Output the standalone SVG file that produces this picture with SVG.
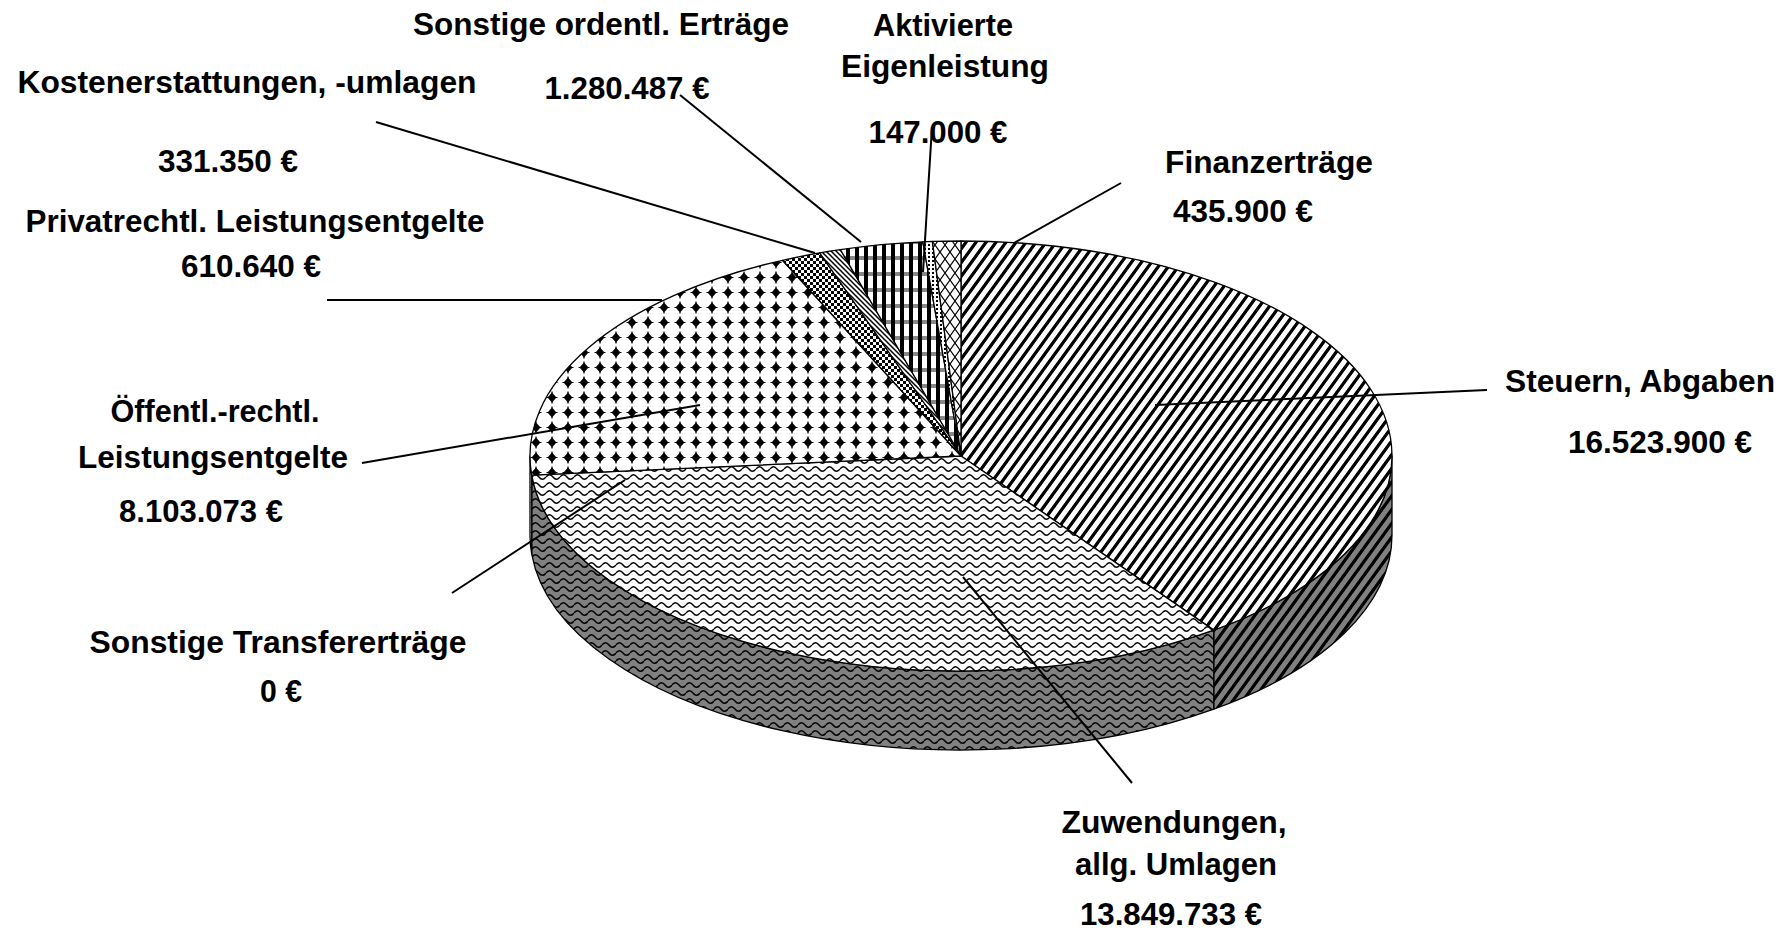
<svg xmlns="http://www.w3.org/2000/svg" width="1787" height="931" viewBox="0 0 1787 931">
<defs>
<pattern id="pSt" patternUnits="userSpaceOnUse" width="10" height="10" patternTransform="skewX(-36)">
<rect width="10" height="10" fill="#fff"/><rect width="4" height="10" fill="#000"/>
</pattern>
<pattern id="pStS" patternUnits="userSpaceOnUse" width="10" height="10" patternTransform="skewX(-36)">
<rect width="10" height="10" fill="#808080"/><rect width="4" height="10" fill="#000"/>
</pattern>
<pattern id="pZu" patternUnits="userSpaceOnUse" width="14" height="8">
<rect width="14" height="8" fill="#fff"/><path d="M0,5 Q3.5,0.5 7,5 T14,5" fill="none" stroke="#000" stroke-width="1.4"/>
</pattern>
<pattern id="pZuS" patternUnits="userSpaceOnUse" width="14" height="8">
<rect width="14" height="8" fill="#808080"/><path d="M0,5 Q3.5,0.5 7,5 T14,5" fill="none" stroke="#000" stroke-width="1.5"/>
</pattern>
<pattern id="pOe" patternUnits="userSpaceOnUse" width="16" height="15">
<rect width="16" height="15" fill="#fff"/><polygon points="8,2.5 12.5,7.5 8,12.5 3.5,7.5" fill="#000"/><path d="M8,1.5 V13.5 M2.5,7.5 H13.5" stroke="#000" stroke-width="1.2"/>
</pattern>
<pattern id="pPr" patternUnits="userSpaceOnUse" width="6" height="6">
<rect width="6" height="6" fill="#fff"/><rect width="3" height="3" fill="#000"/><rect x="3" y="3" width="3" height="3" fill="#000"/>
</pattern>
<pattern id="pKo" patternUnits="userSpaceOnUse" width="5" height="5">
<rect width="5" height="5" fill="#fff"/><path d="M0,0 L5,5 M-1,4 L1,6 M4,-1 L6,1" stroke="#000" stroke-width="1.5"/>
</pattern>
<pattern id="pSo" patternUnits="userSpaceOnUse" width="9" height="16">
<rect width="9" height="16" fill="#fff"/><rect y="0" width="9" height="4" fill="#888"/><rect width="4" height="16" fill="#000"/>
</pattern>
<pattern id="pAk" patternUnits="userSpaceOnUse" width="4" height="4">
<rect width="4" height="4" fill="#fff"/><rect width="2" height="2" fill="#000"/>
</pattern>
<pattern id="pFi" patternUnits="userSpaceOnUse" width="10" height="14">
<rect width="10" height="14" fill="#fff"/><path d="M0,0 L10,14 M10,0 L0,14" stroke="#000" stroke-width="1.2"/>
</pattern>
</defs>
<style>
.lbl{font-family:"Liberation Sans",Arial,sans-serif;font-weight:bold;font-size:31px;fill:#000;text-anchor:middle}
.ld{fill:none;stroke:#000;stroke-width:2}
.edge{stroke:#000;stroke-width:1.3;stroke-linejoin:round}
</style>
<rect width="1787" height="931" fill="#fff"/>

<g id="steuern">
<path class="edge" fill="url(#pStS)" d="M1392,456 A431,215 0 0 1 1213.75,630.15 L1213.75,709.15 A431,215 0 0 0 1392,535 Z"/>
<path class="edge" fill="url(#pSt)" d="M961,456 L961,241 A431,215 0 0 1 1213.75,630.15 Z"/>
<text class="lbl" x="1640" y="392" textLength="270" lengthAdjust="spacingAndGlyphs">Steuern, Abgaben</text>
<text class="lbl" x="1660" y="453" textLength="184" lengthAdjust="spacingAndGlyphs">16.523.900 €</text>
</g>

<g id="zuwendungen">
<path class="edge" fill="url(#pZuS)" d="M1213.75,630.15 A431,215 0 0 1 531.72,475.21 L531.72,554.21 A431,215 0 0 0 1213.75,709.15 Z"/>
<path class="edge" fill="url(#pZu)" d="M961,456 L1213.75,630.15 A431,215 0 0 1 531.72,475.21 Z"/>
<text class="lbl" x="1174" y="833" textLength="225" lengthAdjust="spacingAndGlyphs">Zuwendungen,</text>
<text class="lbl" x="1176" y="875" textLength="202" lengthAdjust="spacingAndGlyphs">allg. Umlagen</text>
<text class="lbl" x="1171" y="925" textLength="182" lengthAdjust="spacingAndGlyphs">13.849.733 €</text>
</g>

<g id="transfer">
<text class="lbl" x="278" y="653" textLength="377" lengthAdjust="spacingAndGlyphs">Sonstige Transfererträge</text>
<text class="lbl" x="281" y="702" textLength="42" lengthAdjust="spacingAndGlyphs">0 €</text>
</g>

<g id="oeffentl">
<path class="edge" fill="url(#pOe)" d="M531.72,475.21 A431,215 0 0 1 530,456 L530,535 A431,215 0 0 0 531.72,554.21 Z"/>
<path class="edge" fill="url(#pOe)" d="M961,456 L531.72,475.21 A431,215 0 0 1 782.51,260.29 Z"/>
<text class="lbl" x="215" y="422" textLength="209" lengthAdjust="spacingAndGlyphs">Öffentl.-rechtl.</text>
<text class="lbl" x="213" y="468" textLength="270" lengthAdjust="spacingAndGlyphs">Leistungsentgelte</text>
<text class="lbl" x="201" y="522" textLength="164" lengthAdjust="spacingAndGlyphs">8.103.073 €</text>
</g>

<g id="privat">
<path class="edge" fill="url(#pPr)" d="M961,456 L782.51,260.29 A431,215 0 0 1 819.69,252.88 Z"/>
<text class="lbl" x="255" y="232" textLength="459" lengthAdjust="spacingAndGlyphs">Privatrechtl. Leistungsentgelte</text>
<text class="lbl" x="251" y="277" textLength="140" lengthAdjust="spacingAndGlyphs">610.640 €</text>
</g>

<g id="kosten">
<path class="edge" fill="url(#pKo)" d="M961,456 L819.69,252.88 A431,215 0 0 1 840.40,249.59 Z"/>
<text class="lbl" x="247" y="93" textLength="459" lengthAdjust="spacingAndGlyphs">Kostenerstattungen, -umlagen</text>
<text class="lbl" x="228" y="172" textLength="140" lengthAdjust="spacingAndGlyphs">331.350 €</text>
</g>

<g id="sonstige">
<path class="edge" fill="url(#pSo)" d="M961,456 L840.40,249.59 A431,215 0 0 1 922.81,241.85 Z"/>
<text class="lbl" x="601" y="35" textLength="376" lengthAdjust="spacingAndGlyphs">Sonstige ordentl. Erträge</text>
<text class="lbl" x="627" y="99" textLength="165" lengthAdjust="spacingAndGlyphs">1.280.487 €</text>
</g>

<g id="aktivierte">
<path class="edge" fill="url(#pAk)" d="M961,456 L922.81,241.85 A431,215 0 0 1 932.43,241.47 Z"/>
<text class="lbl" x="943" y="36" textLength="140" lengthAdjust="spacingAndGlyphs">Aktivierte</text>
<text class="lbl" x="945" y="77" textLength="208" lengthAdjust="spacingAndGlyphs">Eigenleistung</text>
<text class="lbl" x="938" y="143" textLength="139" lengthAdjust="spacingAndGlyphs">147.000 €</text>
</g>

<g id="finanz">
<path class="edge" fill="url(#pFi)" d="M961,456 L932.43,241.47 A431,215 0 0 1 961,241 Z"/>
<text class="lbl" x="1269" y="173" textLength="208" lengthAdjust="spacingAndGlyphs">Finanzerträge</text>
<text class="lbl" x="1243" y="222" textLength="140" lengthAdjust="spacingAndGlyphs">435.900 €</text>
</g>

<g id="connectors">
<path class="ld" d="M680,95 L861,242"/>
<path class="ld" d="M932,127 L923,272"/>
<path class="ld" d="M376,122 L815,253"/>
<path class="ld" d="M327,300 L662,300"/>
<path class="ld" d="M362,463 L700,405"/>
<path class="ld" d="M452,593 L625,480"/>
<path class="ld" d="M963,577 L1132,783"/>
<path class="ld" d="M1155,405 L1487,390"/>
<path class="ld" d="M1121,183 L1014,243"/>
</g>
</svg>
